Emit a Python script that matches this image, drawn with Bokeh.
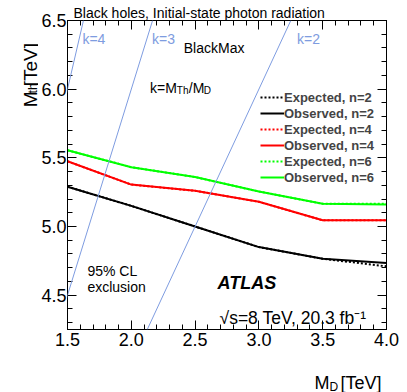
import math
from bokeh.plotting import figure
from bokeh.layouts import column, row
from bokeh.models import (Range1d, LinearAxis, SingleIntervalTicker, Label, Slope, Title,
                          Legend, LegendItem, CustomJSTickFormatter, NumeralTickFormatter)
from bokeh.embed import file_html
from bokeh.resources import INLINE

# ---- data ----
md = [1.5, 2.0, 2.5, 3.0, 3.5, 4.0]
exp_n2 = [5.29, 5.15, 5.00, 4.85, 4.765, 4.71]
obs_n2 = [5.29, 5.15, 5.00, 4.85, 4.765, 4.735]
exp_n4 = [5.475, 5.305, 5.26, 5.18, 5.045, 5.045]
obs_n4 = [5.475, 5.305, 5.26, 5.18, 5.045, 5.045]
exp_n6 = [5.555, 5.432, 5.36, 5.255, 5.165, 5.165]
obs_n6 = [5.555, 5.432, 5.36, 5.255, 5.165, 5.16]
k_values = [4, 3, 2]
k_labels = ["k=4", "k=3", "k=2"]

FONT = "Liberation Sans"
KCOL = "#7e9ce0"

# page layout (pixels)
PAGE_W, PAGE_H = 407, 392
LEFT_W = 38         # strip with the y-axis title
BOT_H = 32          # strip with the x-axis title
MAIN_W, MAIN_H = PAGE_W - LEFT_W, PAGE_H - BOT_H
FL, FR, FT, FB = 65, 386, 20, 329   # frame edges on the page
X0, X1, Y0, Y1 = 1.5, 4.0, 4.25, 6.5


def px2x(px):
    return X0 + (px - FL) / (FR - FL) * (X1 - X0)


def px2y(py):
    return Y1 - (py - FT) / (FB - FT) * (Y1 - Y0)


p = figure(width=MAIN_W, height=MAIN_H, x_range=Range1d(X0, X1), y_range=Range1d(Y0, Y1),
           output_backend="svg", toolbar_location=None, title=None,
           min_border_left=FL - LEFT_W, min_border_right=PAGE_W - FR,
           min_border_top=FT, min_border_bottom=MAIN_H - FB)
p.xgrid.visible = False
p.ygrid.visible = False
p.outline_line_color = "black"
p.outline_line_width = 1


def style_axis(ax, labels=True):
    ax.ticker = SingleIntervalTicker(interval=0.5, num_minor_ticks=5)
    ax.major_tick_in = 9
    ax.major_tick_out = 0
    ax.minor_tick_in = 5
    ax.minor_tick_out = 0
    ax.axis_line_color = "black"
    ax.major_tick_line_color = "black"
    ax.minor_tick_line_color = "black"
    ax.major_label_text_font = FONT
    ax.major_label_text_font_size = "18px"
    ax.major_label_text_color = "black"
    ax.major_label_standoff = 3
    if labels:
        ax.formatter = NumeralTickFormatter(format="0.0")
    else:
        ax.formatter = CustomJSTickFormatter(code="return ''")
        ax.major_label_text_font_size = "0px"
        ax.major_label_standoff = 0


style_axis(p.xaxis[0])
style_axis(p.yaxis[0])
p.yaxis[0].major_label_standoff = 1
top = LinearAxis()
right = LinearAxis()
style_axis(top, labels=False)
style_axis(right, labels=False)
p.add_layout(top, "above")
p.add_layout(right, "right")

# title above the frame
p.title = Title(text="Black holes, Initial-state photon radiation", align="left",
                offset=6, standoff=0, text_font=FONT, text_font_size="14px",
                text_font_style="normal", text_color="black")

# k = M_th / M_D lines
for k in k_values:
    p.add_layout(Slope(gradient=k, y_intercept=0, line_color=KCOL, line_width=1))

# limit curves
series = [
    ("Expected, n=2", exp_n2, "black", "2 2"),
    ("Observed, n=2", obs_n2, "black", "solid"),
    ("Expected, n=4", exp_n4, "#ff0000", "2 2"),
    ("Observed, n=4", obs_n4, "#ff0000", "solid"),
    ("Expected, n=6", exp_n6, "#00ff00", "2 2"),
    ("Observed, n=6", obs_n6, "#00ff00", "solid"),
]
items = []
for name, ys, col, dash in series:
    r = p.line(md, ys, line_color=col, line_width=2, line_dash=dash)
    items.append(LegendItem(label=name, renderers=[r]))

legend = Legend(items=items, location=(193, 144), padding=0, margin=0, spacing=0,
                glyph_width=24, glyph_height=16, label_height=16, label_standoff=0,
                label_text_font=FONT, label_text_font_size="13px",
                label_text_font_style="bold", background_fill_alpha=0,
                border_line_alpha=0)
p.add_layout(legend)


def lab(fig, text, x, y, size, color="black", style="normal", align="left", angle=0):
    fig.add_layout(Label(x=x, y=y, text=text, text_font=FONT,
                         text_font_size=f"{size}px", text_color=color,
                         text_font_style=style, text_align=align,
                         text_baseline="alphabetic", angle=angle))


def mlab(text, px, py, size, **kw):
    lab(p, text, px2x(px), px2y(py), size, **kw)


# k labels
for t, xp in zip(k_labels, [80, 150, 296]):
    mlab(t, xp, 38, 14, color=KCOL)
mlab("BlackMax", 182, 47, 14)
# k = M_Th / M_D
mlab("k=M", 148, 87, 14)
mlab("Th", 175, 90, 10)
mlab("/M", 187, 87, 14)
mlab("D", 202, 90, 10)
# exclusion text
mlab("95% CL", 85, 270, 14)
mlab("exclusion", 85, 286, 14)
mlab("ATLAS", 216, 282, 18, style="bold italic")
mlab("\u221as=8 TeV, 20.3 fb\u207b\u00b9", 218, 317, 17.5)


def strip(w, h):
    f = figure(width=w, height=h, x_range=Range1d(0, w), y_range=Range1d(0, h),
               output_backend="svg", toolbar_location=None,
               x_axis_location=None, y_axis_location=None,
               min_border=0, min_border_left=0, min_border_right=0,
               min_border_top=0, min_border_bottom=0)
    f.xgrid.visible = False
    f.ygrid.visible = False
    f.outline_line_color = None
    return f


# y-axis title strip (page y 0..MAIN_H)
left_fig = strip(LEFT_W, MAIN_H)


def ly(py):
    return MAIN_H - py


lab(left_fig, "M", 29.5, ly(101), 19, angle=math.pi / 2)
lab(left_fig, "th", 32.5, ly(85), 12, angle=math.pi / 2)
lab(left_fig, " [TeV]", 29.5, ly(20), 19, align="right", angle=math.pi / 2)

# x-axis title strip (page y MAIN_H..PAGE_H)
bot_fig = strip(PAGE_W, BOT_H)
lab(bot_fig, " [TeV]", 386, PAGE_H - 382, 18, align="right")
lab(bot_fig, "D", 329, PAGE_H - 386, 12)
lab(bot_fig, "M", 314, PAGE_H - 382, 18)

layout = column(row(left_fig, p, spacing=0), bot_fig, spacing=0)
open("out.html", "w").write(file_html(layout, INLINE))
